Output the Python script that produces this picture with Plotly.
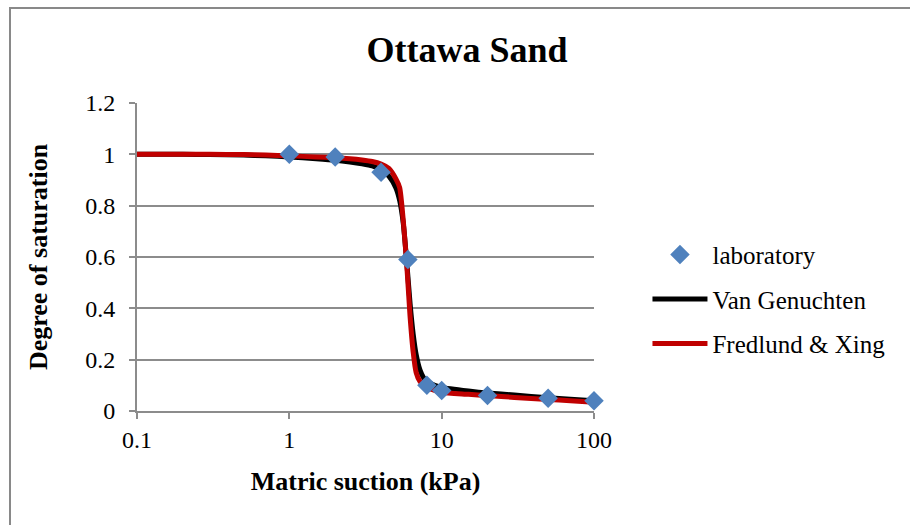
import plotly.graph_objects as go

# Laboratory measurements (matric suction in kPa, degree of saturation)
lab_suction = [1, 2, 4, 6, 8, 10, 20, 50, 100]
lab_saturation = [1.0, 0.99, 0.93, 0.59, 0.10, 0.08, 0.06, 0.05, 0.04]

# Fitted soil-water characteristic curves
curve_suction = [0.1, 0.2, 0.3, 0.5, 0.7, 1, 1.5, 2, 2.5, 3, 3.5, 4, 4.5, 5,
                 5.3, 5.6, 5.9, 6.2, 6.5, 6.8, 7.2, 7.6, 8, 9, 10, 15, 20,
                 30, 50, 70, 100]
van_genuchten = [1.0, 1.0, 0.999, 0.997, 0.994, 0.99, 0.983, 0.977, 0.97,
                 0.963, 0.955, 0.94, 0.915, 0.87, 0.82, 0.73, 0.58, 0.42,
                 0.30, 0.22, 0.16, 0.13, 0.115, 0.10, 0.092, 0.078, 0.07,
                 0.062, 0.052, 0.046, 0.04]
fredlund_xing = [1.0, 1.0, 1.0, 0.999, 0.997, 0.994, 0.99, 0.987, 0.983,
                 0.978, 0.972, 0.962, 0.945, 0.905, 0.87, 0.74, 0.57, 0.37,
                 0.23, 0.15, 0.115, 0.10, 0.093, 0.08, 0.072, 0.065, 0.06,
                 0.053, 0.045, 0.04, 0.034]

x_ticks = [0.1, 1, 10, 100]
x_tick_labels = ["0.1", "1", "10", "100"]

FONT = "Liberation Serif, Times New Roman, serif"
GRID = "#8c8c8c"

fig = go.Figure()

fig.add_trace(go.Scatter(
    x=curve_suction, y=van_genuchten, mode="lines", name="Van Genuchten",
    line=dict(color="#000000", width=5, shape="spline", smoothing=0.6),
    legendgroup="vg", legendrank=2,
))
fig.add_trace(go.Scatter(
    x=curve_suction, y=fredlund_xing, mode="lines", name="Fredlund & Xing",
    line=dict(color="#c00000", width=5, shape="spline", smoothing=0.6),
    legendgroup="fx", legendrank=3,
))
fig.add_trace(go.Scatter(
    x=lab_suction, y=lab_saturation, mode="markers", name="laboratory",
    marker=dict(symbol="diamond", size=15, color="#4f81bd"),
    legendgroup="lab", legendrank=1, cliponaxis=False,
))

fig.update_layout(
    width=910, height=525,
    margin=dict(l=137, r=316, t=103, b=114),
    paper_bgcolor="white", plot_bgcolor="white",
    font=dict(family=FONT, color="#000000", size=24),
    title=dict(text="<b>Ottawa Sand</b>", x=467 / 910, xref="container",
               xanchor="center", y=1 - 49 / 525, yref="container",
               yanchor="middle", font=dict(size=36, family=FONT)),
    showlegend=True,
    legend=dict(x=1.117, xanchor="left", y=0.582, yanchor="top",
                font=dict(size=25, family=FONT), itemwidth=55,
                tracegroupgap=9, bgcolor="rgba(0,0,0,0)"),
    shapes=[dict(type="rect", xref="paper", yref="paper",
                 x0=(10 - 137) / 457, x1=2.0,
                 y0=-1.0, y1=(411 - 8) / 308,
                 line=dict(color="#898989", width=2), layer="below")],
)

fig.update_xaxes(
    type="log", range=[-1, 2], tickvals=x_ticks, ticktext=x_tick_labels,
    showgrid=False, zeroline=False, showline=True, linecolor=GRID,
    linewidth=2, ticks="outside", ticklen=6, tickwidth=2, tickcolor=GRID,
    tickfont=dict(size=24, family=FONT), ticklabelstandoff=0,
    title=dict(text="<b>Matric suction (kPa)</b>", font=dict(size=26, family=FONT),
               standoff=20),
)
fig.update_yaxes(
    range=[0, 1.2], dtick=0.2, tick0=0, showgrid=True, gridcolor=GRID,
    gridwidth=2, zeroline=False, showline=True, linecolor=GRID, linewidth=2,
    ticks="outside", ticklen=6, tickwidth=2, tickcolor=GRID,
    tickfont=dict(size=24, family=FONT), ticklabelstandoff=9,
    title=dict(text="<b>Degree of saturation</b>", font=dict(size=26, family=FONT),
               standoff=30),
)

fig.write_html("out.html")
